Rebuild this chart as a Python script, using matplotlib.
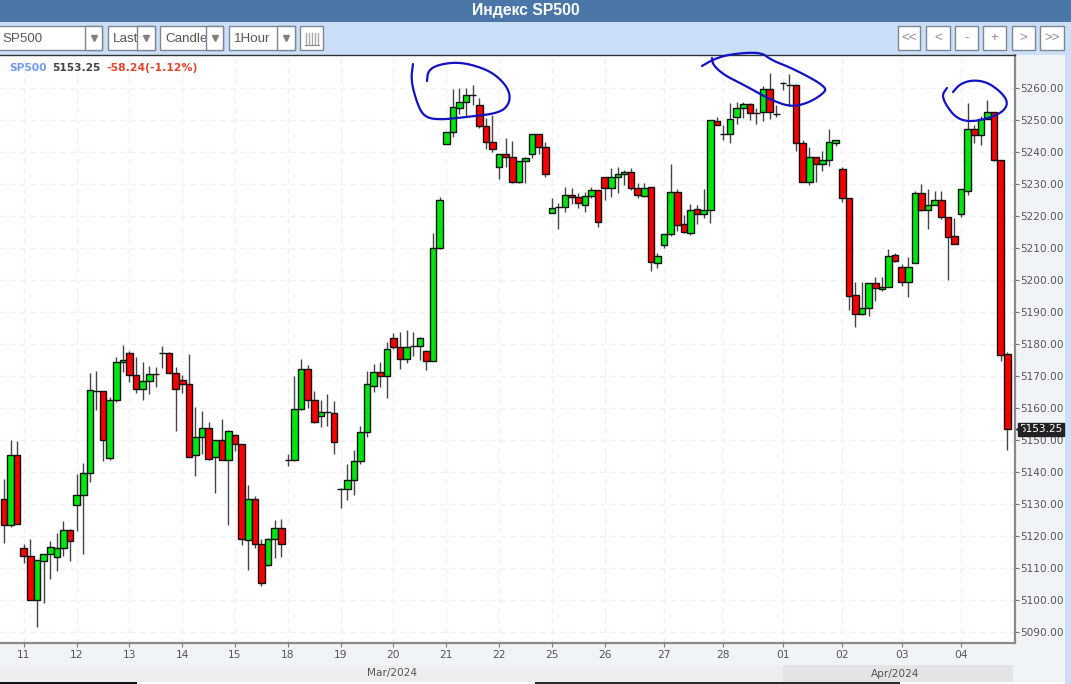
import matplotlib
matplotlib.use("Agg")
import numpy as np
import matplotlib.pyplot as plt
from matplotlib.patches import Rectangle

# hourly bars, left to right
opens = [5131.5,5123.4,5145.2,5116.1,5113.7,5100.0,5112.1,5114.1,5113.4,5116.1,5121.7,5129.6,5132.7,5139.6,5165.4,5165.2,5144.4,5162.5,5174.4,5177.2,
5170.3,5165.8,5168.5,5170.6,5177.0,5177.2,5170.9,5168.6,5167.5,5145.1,5151.0,5153.7,5144.5,5149.9,5143.8,5151.6,5148.6,5118.6,5131.4,5117.3,
5110.7,5118.9,5122.4,5143.7,5143.6,5159.5,5172.1,5162.6,5157.3,5158.6,5158.3,5134.7,5134.5,5137.3,5143.5,5152.5,5166.7,5171.1,5170.0,5182.0,
5178.9,5175.2,5179.3,5179.3,5177.8,5174.8,5210.0,5242.5,5246.2,5253.7,5255.8,5257.9,5254.8,5248.3,5243.1,5235.2,5239.3,5238.6,5230.7,5237.1,
5239.3,5245.6,5241.7,5221.1,5222.8,5222.7,5226.6,5225.9,5223.4,5226.2,5228.3,5232.3,5228.7,5232.3,5233.1,5233.8,5228.7,5226.3,5229.0,5205.2,
5211.0,5214.3,5227.6,5217.6,5214.8,5222.3,5220.8,5222.0,5249.7,5245.7,5245.6,5250.9,5253.7,5255.1,5252.4,5252.5,5259.9,5252.0,5261.6,5261.1,
5261.0,5242.8,5230.7,5238.6,5236.2,5237.6,5242.8,5234.8,5225.5,5195.2,5189.3,5191.3,5199.0,5197.3,5197.9,5207.9,5204.2,5199.3,5205.2,5227.1,
5222.0,5223.4,5225.1,5219.6,5213.9,5220.6,5228.0,5247.2,5245.5,5250.5,5252.7,5237.5,5176.8]
highs = [5137.7,5150.0,5149.7,5117.4,5119.0,5112.4,5114.1,5118.2,5120.8,5124.6,5122.1,5139.3,5142.7,5170.8,5171.4,5165.2,5163.5,5175.8,5179.8,5177.7,
5175.8,5174.2,5173.1,5172.7,5179.4,5177.4,5172.9,5170.4,5176.9,5160.4,5159.0,5155.6,5149.9,5156.5,5153.1,5151.8,5148.6,5136.0,5132.5,5118.9,
5119.3,5125.0,5125.2,5145.5,5169.9,5175.3,5173.3,5165.3,5162.6,5164.3,5162.0,5134.9,5142.3,5146.7,5154.4,5171.5,5173.7,5174.2,5180.5,5183.3,
5183.7,5184.5,5183.7,5182.2,5178.1,5214.6,5226.1,5246.2,5259.7,5260.0,5260.0,5261.0,5256.9,5250.6,5251.6,5239.3,5244.5,5243.6,5237.2,5238.6,
5245.7,5245.7,5243.1,5225.8,5224.2,5229.0,5228.7,5227.1,5227.6,5229.1,5228.3,5232.3,5234.9,5235.3,5234.4,5234.9,5230.3,5230.5,5229.2,5208.3,
5214.3,5236.3,5228.4,5220.3,5223.8,5223.6,5228.4,5250.0,5250.9,5248.6,5255.3,5255.8,5255.8,5255.5,5253.7,5260.7,5264.9,5254.6,5261.8,5264.5,
5261.4,5243.8,5241.5,5238.6,5240.5,5247.4,5243.8,5235.3,5225.5,5199.5,5199.5,5199.0,5200.8,5200.8,5209.7,5208.3,5205.0,5207.1,5228.0,5230.0,
5228.4,5227.9,5227.9,5219.8,5219.3,5228.4,5255.3,5248.5,5251.3,5256.3,5252.7,5237.5,5177.4]
lows = [5117.7,5122.6,5123.6,5111.4,5100.0,5091.3,5098.8,5106.4,5108.8,5113.5,5112.0,5121.5,5114.3,5136.7,5159.4,5143.5,5143.7,5161.7,5171.1,5168.0,
5164.6,5162.6,5164.4,5166.6,5172.5,5170.8,5152.9,5164.6,5144.7,5138.8,5145.5,5143.8,5133.2,5143.7,5123.2,5146.6,5117.2,5109.4,5116.0,5104.3,
5110.5,5112.9,5113.2,5141.7,5143.3,5159.3,5159.8,5155.3,5154.1,5154.4,5145.5,5128.7,5131.1,5132.8,5142.5,5150.9,5164.8,5166.6,5163.1,5178.3,
5172.0,5174.1,5176.2,5174.9,5171.7,5174.8,5209.8,5242.5,5244.7,5251.9,5251.1,5254.8,5247.5,5240.9,5239.9,5231.5,5235.5,5230.5,5230.5,5230.2,
5238.1,5239.4,5232.1,5220.9,5215.8,5221.3,5223.8,5222.6,5221.3,5225.5,5216.5,5225.0,5226.1,5227.1,5229.7,5228.2,5225.5,5226.1,5202.7,5203.7,
5209.9,5213.8,5215.4,5214.6,5214.1,5217.5,5219.3,5217.9,5248.5,5243.8,5242.8,5248.7,5250.6,5250.1,5248.8,5249.8,5250.3,5250.9,5259.5,5254.3,
5240.5,5230.7,5229.7,5230.7,5234.1,5235.8,5242.0,5224.4,5190.6,5185.4,5189.0,5188.8,5193.3,5196.5,5197.7,5205.7,5198.2,5194.8,5205.2,5221.7,
5215.8,5223.4,5219.0,5200.0,5211.2,5219.6,5226.5,5243.0,5242.3,5250.3,5237.2,5174.5,5146.7]
closes = [5123.4,5145.2,5123.7,5113.7,5100.0,5112.4,5114.1,5116.5,5116.1,5121.7,5118.2,5132.7,5139.6,5165.5,5165.2,5149.9,5162.5,5174.4,5175.1,5170.3,
5165.8,5168.5,5170.6,5170.6,5177.0,5170.9,5165.8,5167.5,5144.7,5151.0,5153.7,5144.0,5149.9,5143.8,5152.8,5148.6,5118.9,5131.4,5117.3,5105.1,
5118.9,5122.4,5117.3,5143.7,5159.5,5172.1,5162.6,5155.6,5158.6,5158.6,5149.3,5134.7,5137.3,5143.5,5152.5,5167.3,5171.1,5170.0,5178.4,5178.9,
5175.2,5178.9,5179.3,5181.9,5174.8,5210.0,5224.9,5246.2,5254.0,5255.8,5257.9,5257.9,5248.3,5243.1,5241.0,5239.3,5238.6,5230.7,5237.2,5238.3,
5245.6,5241.7,5233.3,5222.4,5222.8,5226.6,5225.9,5224.2,5226.2,5228.3,5218.2,5228.7,5232.3,5233.2,5233.8,5228.7,5226.6,5228.7,5205.5,5207.6,
5214.3,5227.6,5217.3,5214.9,5222.0,5220.8,5222.0,5250.0,5248.6,5245.7,5250.3,5253.7,5255.1,5252.4,5252.4,5259.9,5252.5,5252.0,5261.6,5261.1,
5242.8,5230.7,5238.6,5236.2,5237.6,5243.1,5243.8,5225.5,5194.9,5189.3,5191.3,5199.0,5197.4,5197.9,5207.6,5205.8,5199.4,5204.2,5227.1,5222.0,
5223.5,5225.1,5219.6,5213.4,5211.2,5228.4,5247.2,5245.5,5250.5,5252.7,5237.4,5176.6,5153.25]

day_bars = [3,11,19,27,35,43,51,59,67,75,83,91,100,109,118,127,136,145]
day_labels = ["11","12","13","14","15","18","19","20","21","22","25","26","27","28","01","02","03","04"]
price_ticks = list(range(5090, 5261, 10))

# hand drawn circles on the screenshot, in pixels
circle1_x = [427,428,437,457,477,495,509,510,500,467,437,423,416,411,413]
circle1_y = [81,71,65,62,66,74,89,103,113,117,120,116,100,80,64]
circle2_x = [702,714,731,761,771,794,827,823,808,791,771,744,724,713,712]
circle2_y = [66,59,54,52,60,69,87,94,103,107,100,85,75,65,58]
circle3_x = [953,960,972,987,1001,1008,1004,990,970,956,946,942,947]
circle3_y = [92,84,80,82,92,102,111,118,122,118,105,95,88]

W, H = 1071, 684
plt.rcParams['font.family'] = ['DejaVu Sans']

fig = plt.figure(figsize=(W/100, H/100), dpi=100, facecolor='#f1f4f7')

# window furniture, pixel coordinates
bg = fig.add_axes([0, 0, 1, 1], zorder=0)
bg.set_xlim(0, W)
bg.set_ylim(H, 0)
bg.axis('off')

def box(x0, y0, x1, y1, fc, ec='none', lw=0, z=1):
	bg.add_patch(Rectangle((x0, y0), x1-x0, y1-y0, fc=fc, ec=ec, lw=lw, zorder=z))

box(0, 0, W, 22, '#4a77a8')
box(0, 22, W, 55, '#cbe0f8')
box(1065, 55, W, 684, '#cbe0f8')
box(0, 665, 783, 682, '#eceef0')
box(783, 665, 1013, 682, '#e2e4e6')
box(0, 682, 1065, 684, '#ffffff')
box(0, 682, 137, 684, '#10131f', z=2)
box(535, 682, 900, 684, '#2a2a2a', z=2)
bg.text(526, 10, "Индекс SP500", color='white', fontsize=11.3, fontweight='bold', family='Liberation Sans', ha='center', va='center')

combos = [("SP500", -3, 102, 85), ("Last", 108, 155, 137), ("Candle", 160, 223, 206), ("1Hour", 229, 295, 277)]
for label, x0, x1, xd in combos:
	box(x0, 26, x1, 50, 'white', '#7d8791', 1)
	bg.text(x0+5, 38.5, label, color='#555555', fontsize=9.6, family='Liberation Sans', va='center', zorder=2)
	box(xd, 26, x1, 50, 'white', '#7d8791', 1, z=3)
	bg.plot([(xd+x1)/2], [38], marker='v', ms=5, color='#808080', zorder=4)
box(300, 26, 323, 50, 'white', '#7d8791', 1)
for xb in [306, 309, 312, 315, 318]:
	bg.plot([xb, xb], [33, 44], color='#aaaaaa', lw=1, zorder=3)
bg.plot([305, 319], [44.5, 44.5], color='#888888', lw=0.8, zorder=3)

nav = [("<<", 898, 920), ("<", 926, 950), ("-", 955, 978), ("+", 983, 1006), (">", 1012, 1035), (">>", 1040, 1064)]
for label, x0, x1 in nav:
	box(x0, 26, x1, 50, 'white', '#7d8791', 1)
	bg.text((x0+x1)/2, 38, label, color='#888888', fontsize=9.5, family='Liberation Sans', ha='center', va='center', zorder=2)

bg.text(392, 673, "Mar/2024", color='#555555', fontsize=7.6, ha='center', va='center', zorder=3)
bg.text(895, 674, "Apr/2024", color='#555555', fontsize=7.6, ha='center', va='center', zorder=3)

# price panel
px_left, px_right, px_top, px_bottom = 0, 1015, 55, 642.7
ax = fig.add_axes([px_left/W, 1-px_bottom/H, (px_right-px_left)/W, (px_bottom-px_top)/H], zorder=1)
ax.set_facecolor('white')
ax.set_xlim(-0.606, 153.18)
ax.set_ylim(5086.5, 5270.4)
ax.set_axisbelow(True)
ax.grid(True, color='#efefef', ls=(0, (4, 4)), lw=0.9)

x = np.arange(len(closes))
o = np.array(opens)
c = np.array(closes)
colors = np.where(c > o, '#00e60f', '#f60000')
ax.vlines(x, lows, highs, color='#444444', lw=1.0, zorder=2)
ax.bar(x, c-o, bottom=o, width=1.0, color=colors, edgecolor='#111111', linewidth=1.0, zorder=3)

ax.yaxis.tick_right()
ax.set_yticks(price_ticks)
ax.set_yticklabels(["%.2f" % p for p in price_ticks])
ax.set_xticks(day_bars)
ax.set_xticklabels(day_labels)
ax.tick_params(axis='y', length=3, width=0.8, color='#777777', labelcolor='#555555', labelsize=7.6, pad=1)
ax.tick_params(axis='x', length=3, width=0.8, color='#777777', labelcolor='#555555', labelsize=7.7, pad=2)
ax.spines['left'].set_visible(False)
ax.spines['top'].set_color('#333333')
ax.spines['top'].set_linewidth(1)
ax.spines['right'].set_color('#8a8a8a')
ax.spines['right'].set_linewidth(1.6)
ax.spines['bottom'].set_color('#8a8a8a')
ax.spines['bottom'].set_linewidth(1.6)

# last price tag
trans = ax.get_yaxis_transform()
ax.text(1.0045, closes[-1], "%.2f" % closes[-1], transform=trans, color='white', fontsize=7.6, va='center', ha='left', clip_on=False, zorder=6,
	bbox=dict(fc='#222222', ec='#222222', pad=0.8))
ax.plot([1.0038], [closes[-1]], transform=trans, marker='<', ms=4, color='#222222', clip_on=False, zorder=6)

# top layer: legend text and the pen strokes
top = fig.add_axes([0, 0, 1, 1], zorder=5)
top.set_xlim(0, W)
top.set_ylim(H, 0)
top.axis('off')
top.patch.set_alpha(0)

top.text(9, 68, "SP500", color='#6f9cf2', fontsize=7.7, fontweight='bold', va='center')
top.text(52, 68, "%.2f" % closes[-1], color='#444444', fontsize=7.7, fontweight='bold', va='center')
top.text(106, 68, "-58.24(-1.12%)", color='#e2452e', fontsize=7.8, fontweight='bold', va='center')

def smooth(xs, ys, passes=3):
	pts = np.column_stack([xs, ys]).astype(float)
	for _ in range(passes):
		q = 0.75*pts[:-1] + 0.25*pts[1:]
		r = 0.25*pts[:-1] + 0.75*pts[1:]
		new = np.empty((len(q)*2, 2))
		new[0::2] = q
		new[1::2] = r
		pts = np.vstack([pts[0], new, pts[-1]])
	return pts[:, 0], pts[:, 1]

for xs, ys in [(circle1_x, circle1_y), (circle2_x, circle2_y), (circle3_x, circle3_y)]:
	sx, sy = smooth(xs, ys)
	top.plot(sx, sy, color='#1212c4', lw=1.6, solid_capstyle='round')

fig.savefig("out.png", dpi=100, facecolor=fig.get_facecolor())
